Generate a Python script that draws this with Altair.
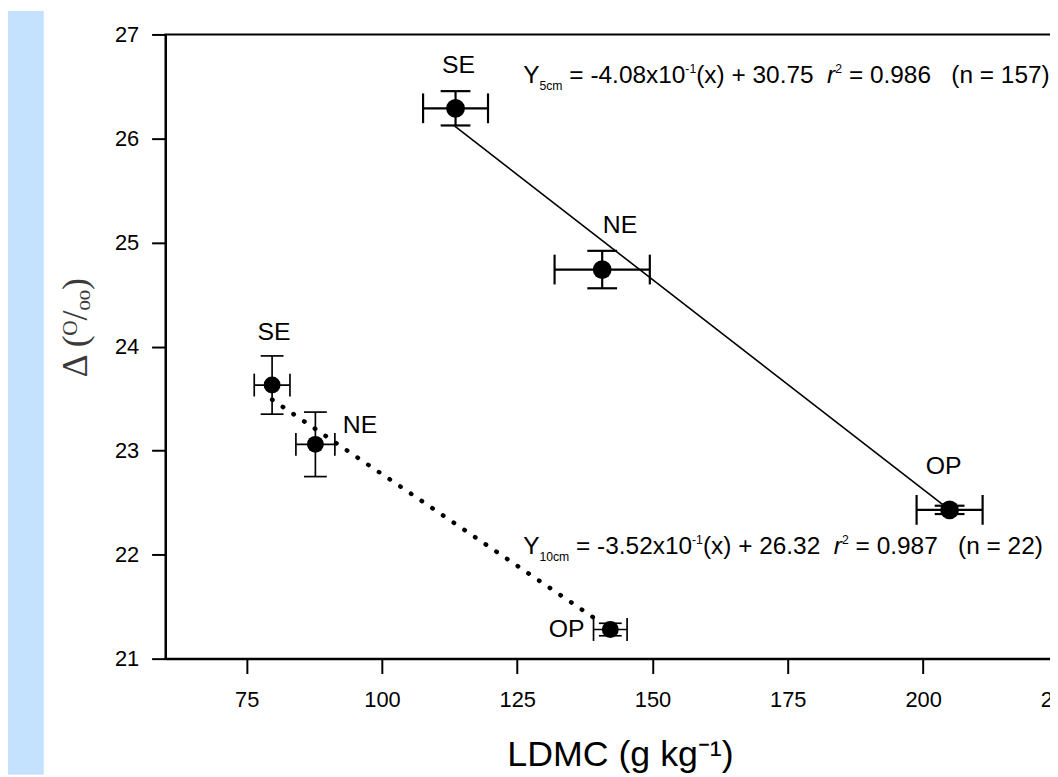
import altair as alt
import pandas as pd

# ---------------- data ----------------
sites = ["SE", "NE", "OP"]

# 5 cm series (solid regression line)
ldmc_5 = [113.6, 140.7, 204.9]
delta_5 = [26.29, 24.74, 22.43]
ldmc_err_5 = [6.0, 8.8, 6.1]
delta_err_5 = [0.165, 0.18, 0.04]

# 10 cm series (dotted regression line)
ldmc_10 = [79.7, 87.7, 142.2]
delta_10 = [23.63, 23.06, 21.28]
ldmc_err_10 = [3.3, 3.6, 3.1]
delta_err_10 = [0.28, 0.31, 0.06]

# regression line end points
fit_5_x = [113.4, 204.9]
fit_5_y = [26.12, 22.43]
fit_10_x = [79.7, 140.4]
fit_10_y = [23.49, 21.35]

# equation anchors (data coordinates)
eq_5_anchor = (126.1, 26.53)
eq_10_anchor = (126.1, 22.01)

x_ticks = [75, 100, 125, 150, 175, 200, 225]
y_ticks = [21, 22, 23, 24, 25, 26, 27]
x_domain = [60, 230]
y_domain = [21, 27]

FONT = "Liberation Sans"
NB = "\u00a0"

# ---------------- tables ----------------
def make_df(xs, ys, xe, ye):
    return pd.DataFrame({
        "site": sites,
        "x": xs,
        "y": ys,
        "xlo": [a - b for a, b in zip(xs, xe)],
        "xhi": [a + b for a, b in zip(xs, xe)],
        "ylo": [a - b for a, b in zip(ys, ye)],
        "yhi": [a + b for a, b in zip(ys, ye)],
    })

df5 = make_df(ldmc_5, delta_5, ldmc_err_5, delta_err_5)
df10 = make_df(ldmc_10, delta_10, ldmc_err_10, delta_err_10)
fit5 = pd.DataFrame({"x": fit_5_x, "y": fit_5_y})
fit10 = pd.DataFrame({"x": fit_10_x, "y": fit_10_y})

xs = alt.Scale(domain=x_domain, nice=False, zero=False)
ys = alt.Scale(domain=y_domain, nice=False, zero=False)

x_axis = alt.Axis(values=x_ticks, tickSize=15, labelPadding=16, grid=False,
                  titleFontSize=36, titleFont=FONT, titleFontWeight="normal",
                  titleX=458, titleY=97, titleBaseline="middle", titleAlign="center")
y_axis = alt.Axis(values=y_ticks, tickSize=14, labelPadding=13, grid=False,
                  titleFontSize=36, titleFont="Liberation Serif", titleFontWeight="normal",
                  titleColor="#3a3a3a",
                  titleX=-91, titleY=295, titleAngle=-90, titleAlign="center",
                  titleBaseline="middle")

X_TITLE = "LDMC (g kg⁻¹)"
Y_TITLE = "Δ (ᴼ/ₒₒ)"


def X(field):
    return alt.X(f"{field}:Q", scale=xs, axis=x_axis, title=X_TITLE)


def Y(field):
    return alt.Y(f"{field}:Q", scale=ys, axis=y_axis, title=Y_TITLE)


layers = []

# background strip on the left (page decoration)
strip = alt.Chart(pd.DataFrame({"k": [0]})).mark_rect(color="#c4e1fd").encode(
    x=alt.value(-158.7), x2=alt.value(-122.7), y=alt.value(-23.7), y2=alt.value(746)
)
layers.append(strip)

# regression lines
layers.append(alt.Chart(fit5).mark_line(color="black", strokeWidth=1.6).encode(x=X("x"), y=Y("y")))
layers.append(alt.Chart(fit10).mark_line(color="black", strokeWidth=4.5, strokeDash=[0.5, 12.5],
                                         strokeCap="round").encode(x=X("x"), y=Y("y")))


def series_layers(df, size, lw, cap):
    out = []
    base = alt.Chart(df)
    out.append(base.mark_rule(color="black", strokeWidth=lw).encode(x=X("xlo"), x2="xhi", y=Y("y")))
    out.append(base.mark_rule(color="black", strokeWidth=lw).encode(x=X("x"), y=Y("ylo"), y2="yhi"))
    out.append(base.mark_tick(color="black", orient="vertical", size=cap, thickness=lw, opacity=1)
               .encode(x=X("xlo"), y=Y("y")))
    out.append(base.mark_tick(color="black", orient="vertical", size=cap, thickness=lw, opacity=1)
               .encode(x=X("xhi"), y=Y("y")))
    out.append(base.mark_tick(color="black", orient="horizontal", size=cap, thickness=lw, opacity=1)
               .encode(x=X("x"), y=Y("ylo")))
    out.append(base.mark_tick(color="black", orient="horizontal", size=cap, thickness=lw, opacity=1)
               .encode(x=X("x"), y=Y("yhi")))
    out.append(base.mark_point(filled=True, shape="circle", size=size, color="black", opacity=1)
               .encode(x=X("x"), y=Y("y")))
    return out


layers += series_layers(df5, 360, 2.2, 30)
layers += series_layers(df10, 290, 1.7, 23)

# site labels
label_offsets_5 = {"SE": (3, -44), "NE": (18, -45), "OP": (-6, -44)}
label_offsets_10 = {"SE": (2, -53), "NE": (45, -19), "OP": (-44, 0)}
for df, offs in ((df5, label_offsets_5), (df10, label_offsets_10)):
    for s in sites:
        dx, dy = offs[s]
        layers.append(
            alt.Chart(df).transform_filter(alt.datum.site == s)
            .mark_text(font=FONT, fontSize=25, color="black", dx=dx, dy=dy,
                       align="center", baseline="middle")
            .encode(x=X("x"), y=Y("y"), text="site:N")
        )

# regression equations, built from pieces (main text, subscripts, superscripts)
K = 1.025
F = 24 * K
f = 12 * K
eq5_pieces = [
    ("Y", 0, 0, F, "normal"),
    ("5cm", 16, 7, f, "normal"),
    ("=" + NB + "-4.08x10", 45.4, 0, F, "normal"),
    ("-1", 159.4, -10, f, "normal"),
    ("(x)" + NB + "+" + NB + "30.75", 170.1, 0, F, "normal"),
    ("r", 298.8, 0, F, "italic"),
    ("2", 306.8, -10, f, "normal"),
    ("=" + NB + "0.986" + NB * 3 + "(n" + NB + "=" + NB + "157)", 320.2, 0, F, "normal"),
]
eq10_pieces = [
    ("Y", 0, 0, F, "normal"),
    ("10cm", 16, 7, f, "normal"),
    ("=" + NB + "-3.52x10", 52.0, 0, F, "normal"),
    ("-1", 166.0, -10, f, "normal"),
    ("(x)" + NB + "+" + NB + "26.32", 176.7, 0, F, "normal"),
    ("r", 305.4, 0, F, "italic"),
    ("2", 313.4, -10, f, "normal"),
    ("=" + NB + "0.987" + NB * 3 + "(n" + NB + "=" + NB + "22)", 326.8, 0, F, "normal"),
]
for anchor, pieces in ((eq_5_anchor, eq5_pieces), (eq_10_anchor, eq10_pieces)):
    adf = pd.DataFrame({"x": [anchor[0]], "y": [anchor[1]]})
    for txt, dx, dy, size, style in pieces:
        layers.append(
            alt.Chart(adf).mark_text(font=FONT, fontSize=size, fontStyle=style, color="black",
                                     align="left", baseline="alphabetic", dx=dx * K, dy=dy, text=txt)
            .encode(x=X("x"), y=Y("y"))
        )

chart = alt.layer(*layers).properties(
    width=927,
    height=629,
    padding={"left": 158.7, "top": 23.7, "right": -35.7, "bottom": 116},
    autosize=alt.AutoSizeParams(type="none"),
).configure_view(
    stroke="black", strokeWidth=2
).configure_axis(
    domainColor="black", domainWidth=2, tickColor="black", tickWidth=2,
    labelColor="black", labelFont=FONT, labelFontSize=22, titleColor="black"
)

chart.save("out.html", embed_options={"renderer": "svg", "actions": False})
